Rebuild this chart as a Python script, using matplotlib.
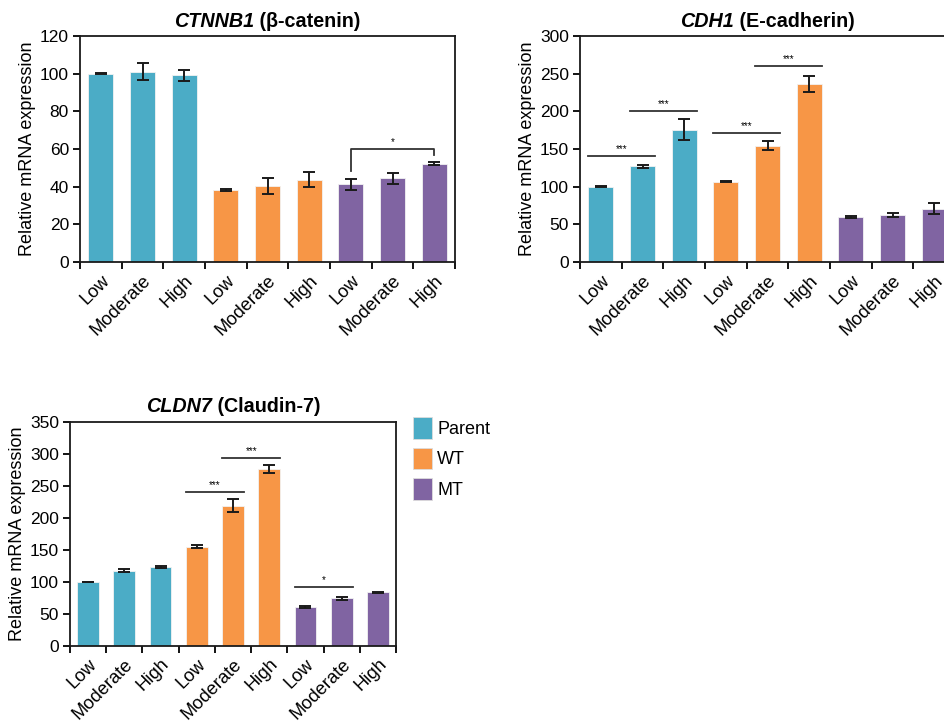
import matplotlib
matplotlib.use("Agg")
import matplotlib.pyplot as plt
from matplotlib.patches import Patch
from matplotlib.offsetbox import TextArea, HPacker, AnchoredOffsetbox
import numpy as np

plt.rcParams['font.family'] = ['Liberation Sans', 'DejaVu Sans']

levels = ["Low", "Moderate", "High"]
groups = ["Parent", "WT", "MT"]
colors = {"Parent": "#4BACC6", "WT": "#F79646", "MT": "#8064A2"}

# CTNNB1 (beta-catenin)
ctnnb1_mean = {"Parent": [100, 101, 99.2], "WT": [38.2, 40.4, 43.7], "MT": [41.3, 44.4, 52.1]}
ctnnb1_err = {"Parent": [0.3, 4.5, 3.0], "WT": [0.5, 4.2, 4.0], "MT": [3.0, 2.8, 0.8]}
# CDH1 (E-cadherin)
cdh1_mean = {"Parent": [100, 127.5, 175.5], "WT": [106.8, 154.5, 236.5], "MT": [59.5, 63, 71]}
cdh1_err = {"Parent": [0.5, 2.0, 14.0], "WT": [0.5, 6.0, 11.0], "MT": [1.5, 2.5, 7.0]}
# CLDN7 (Claudin-7)
cldn7_mean = {"Parent": [100, 117.5, 123.5], "WT": [155, 219, 276], "MT": [61, 74.5, 83.7]}
cldn7_err = {"Parent": [0.5, 2.0, 2.0], "WT": [2.5, 10.0, 6.5], "MT": [1.0, 2.0, 1.0]}

# significance annotations: (bar i, bar j, y, label)
cdh1_sig = [(0, 1, 141, "***"), (1, 2, 201, "***"), (3, 4, 172, "***"), (4, 5, 260, "***")]
cldn7_sig = [(3, 4, 240, "***"), (4, 5, 293, "***"), (6, 7, 91.5, "*")]

fig = plt.figure(figsize=(9.45, 7.22), dpi=100)


def draw_panel(ax, means, errs, ymax, ystep, gene, protein):
    vals, es, cols = [], [], []
    for g in groups:
        vals += means[g]
        es += errs[g]
        cols += [colors[g]] * 3
    x = np.arange(len(vals))
    ax.bar(x, vals, width=0.6, color=cols, edgecolor="#f2f2f2", linewidth=0.6, zorder=2)
    ax.errorbar(x, vals, yerr=es, fmt="none", ecolor="#1a1a1a", elinewidth=1.4,
                capsize=4, capthick=1.4, zorder=3)
    ax.set_xlim(-0.5, len(vals) - 0.5)
    ax.set_ylim(0, ymax)
    ax.set_yticks(np.arange(0, ymax + 1, ystep))
    ax.set_xticks(np.arange(-0.5, len(vals), 1.0))
    ax.set_xticklabels([])
    ax.set_xticks(x, minor=True)
    ax.set_xticklabels(levels * 3, minor=True, rotation=45, ha="right",
                       rotation_mode="anchor", fontsize=13.2)
    ax.tick_params(axis="x", which="minor", length=0, pad=7)
    ax.tick_params(axis="x", which="major", direction="out", length=5, width=1.3)
    ax.tick_params(axis="y", direction="out", length=5, width=1.3, labelsize=12.5, pad=3)
    for s in ax.spines.values():
        s.set_linewidth(1.3)
        s.set_color("#1a1a1a")
    ax.set_ylabel("Relative mRNA expression", fontsize=13, labelpad=3)
    title = HPacker(children=[
        TextArea(gene, textprops=dict(style="italic", weight="bold", size=14.2)),
        TextArea(" " + protein, textprops=dict(weight="bold", size=14.2)),
    ], pad=0, sep=0, align="baseline")
    ab = AnchoredOffsetbox(loc="lower center", child=title, bbox_to_anchor=(0.5, 1.0),
                           bbox_transform=ax.transAxes, frameon=False, pad=0, borderpad=0.4)
    ax.add_artist(ab)
    return x


def sig_line(ax, i, j, y, label, ymax):
    ax.plot([i - 0.3, j + 0.3], [y, y], color="#333333", lw=1.3, zorder=4)
    ax.text((i + j) / 2, y + ymax * 0.008, label, ha="center", va="bottom", fontsize=7)


# Panel 1
ax1 = fig.add_axes([0.0847, 0.637, 0.3968, 0.313])
draw_panel(ax1, ctnnb1_mean, ctnnb1_err, 120, 20, "CTNNB1", "(β-catenin)")
ax1.plot([6, 6, 8, 8], [48.5, 60, 60, 57], color="#333333", lw=1.3, zorder=4)
ax1.text(7, 61, "*", ha="center", va="bottom", fontsize=7)

# Panel 2 (extends past the right edge)
ax2 = fig.add_axes([0.6138, 0.637, 0.3968, 0.313])
draw_panel(ax2, cdh1_mean, cdh1_err, 300, 50, "CDH1", "(E-cadherin)")
for i, j, y, lab in cdh1_sig:
    sig_line(ax2, i, j, y, lab, 300)

# Panel 3
ax3 = fig.add_axes([0.0741, 0.1053, 0.345, 0.3107])
draw_panel(ax3, cldn7_mean, cldn7_err, 350, 50, "CLDN7", "(Claudin-7)")
for i, j, y, lab in cldn7_sig:
    sig_line(ax3, i, j, y, lab, 350)

handles = [Patch(facecolor=colors[g], edgecolor="#dddddd", linewidth=0.6) for g in groups]
fig.legend(handles, groups, loc="upper left", bbox_to_anchor=(0.437, 0.422),
           frameon=False, fontsize=13, handlelength=1.05, handleheight=1.45,
           handletextpad=0.3, labelspacing=0.5, borderpad=0, borderaxespad=0)

fig.savefig("out.png", dpi=100)
